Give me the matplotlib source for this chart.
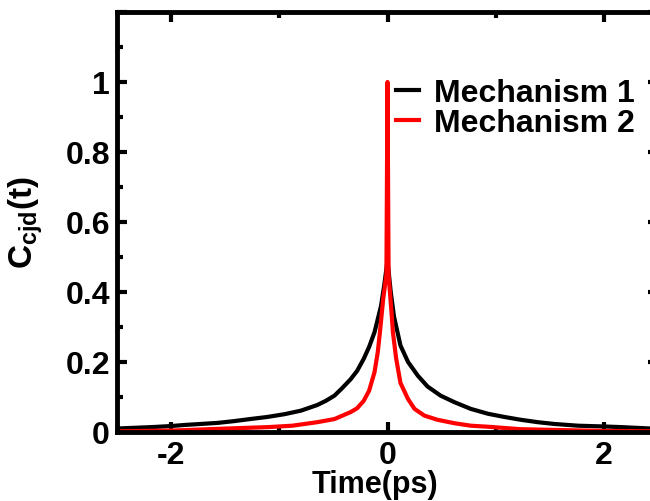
import numpy as np
import matplotlib
matplotlib.use("Agg")
import matplotlib.pyplot as plt
from matplotlib.ticker import MultipleLocator, FuncFormatter

# values
t_mech1 = [-2.5, -2.18, -2.0, -1.88, -1.57, -1.42, -1.27, -1.11, -0.95, -0.80,
           -0.65, -0.57, -0.49, -0.42, -0.34, -0.28, -0.22, -0.17, -0.12,
           -0.06, -0.03, 0.0, 0.03, 0.06, 0.12, 0.19, 0.28, 0.37, 0.49, 0.62,
           0.77, 0.93, 1.08, 1.23, 1.39, 1.54, 1.76, 1.98, 2.16, 2.5]
c_mech1 = [0.010, 0.014, 0.017, 0.020, 0.026, 0.031, 0.037, 0.043, 0.051, 0.061,
           0.077, 0.089, 0.104, 0.125, 0.151, 0.175, 0.209, 0.243, 0.285,
           0.36, 0.42, 0.49, 0.40, 0.33, 0.247, 0.20, 0.161, 0.13, 0.104, 0.085,
           0.066, 0.052, 0.043, 0.035, 0.028, 0.023, 0.018, 0.016, 0.014, 0.009]

t_mech2 = [-2.5, -2.0, -1.57, -1.1, -0.88, -0.65, -0.49, -0.34, -0.28, -0.22,
           -0.17, -0.12, -0.09, -0.07, -0.04, -0.01, 0.0, 0.01, 0.04, 0.05,
           0.08, 0.12, 0.19, 0.25, 0.34, 0.46, 0.62, 0.77, 0.93, 1.23, 2.0, 2.5]
c_mech2 = [0.002, 0.004, 0.009, 0.014, 0.018, 0.028, 0.037, 0.057, 0.068, 0.089,
           0.118, 0.171, 0.228, 0.285, 0.38, 0.45, 1.0, 0.45, 0.33, 0.285,
           0.21, 0.14, 0.094, 0.066, 0.047, 0.035, 0.025, 0.018, 0.015, 0.008,
           0.003, 0.002]

labels = ["Mechanism 1", "Mechanism 2"]

plt.rcParams["font.family"] = ["Liberation Sans", "DejaVu Sans"]
plt.rcParams["font.weight"] = "bold"
plt.rcParams["axes.unicode_minus"] = False
plt.rcParams["mathtext.fontset"] = "custom"
plt.rcParams["mathtext.rm"] = "Liberation Sans:bold"
plt.rcParams["mathtext.bf"] = "Liberation Sans:bold"
plt.rcParams["mathtext.it"] = "Liberation Sans:bold"

fig = plt.figure(figsize=(6.5, 5.02), dpi=100)
ax = fig.add_axes([117 / 650, 69 / 502, 541 / 650, 420 / 502])

ax.plot(t_mech1, c_mech1, color="black", linewidth=3, label=labels[0],
        solid_joinstyle="round")
ax.plot(t_mech2, c_mech2, color="#ff0000", linewidth=3, label=labels[1],
        solid_joinstyle="round")

ax.set_xlim(-2.5, 2.5)
ax.set_ylim(0, 1.2)
ax.xaxis.set_major_locator(MultipleLocator(2))
ax.xaxis.set_minor_locator(MultipleLocator(1))
ax.yaxis.set_major_locator(MultipleLocator(0.2))
ax.yaxis.set_minor_locator(MultipleLocator(0.1))
ax.yaxis.set_major_formatter(FuncFormatter(lambda v, p: "" if v > 1.05 else f"{v:g}"))

for s in ax.spines.values():
    s.set_linewidth(3.5)
ax.tick_params(which="both", direction="in", top=True, right=True, width=3)
ax.tick_params(which="major", length=7, labelsize=23)
ax.tick_params(axis="x", which="major", pad=6)
ax.tick_params(axis="y", which="major", pad=5)
ax.tick_params(which="minor", length=4)

ax.set_xlabel("Time(ps)", fontsize=22, fontweight="bold")
ax.xaxis.set_label_coords(0.477, -0.088)
ax.set_ylabel(r"$\mathrm{C_{cjd}(t)}$", fontsize=24)
ax.yaxis.set_label_coords(-0.133, 0.5)

ax.legend(loc="upper left", bbox_to_anchor=(0.516, 0.842), frameon=False,
          handlelength=0.7, handletextpad=0.5, labelspacing=0.0,
          borderpad=0, borderaxespad=0, prop={"weight": "bold", "size": 23})

fig.savefig("out.png", dpi=100)
